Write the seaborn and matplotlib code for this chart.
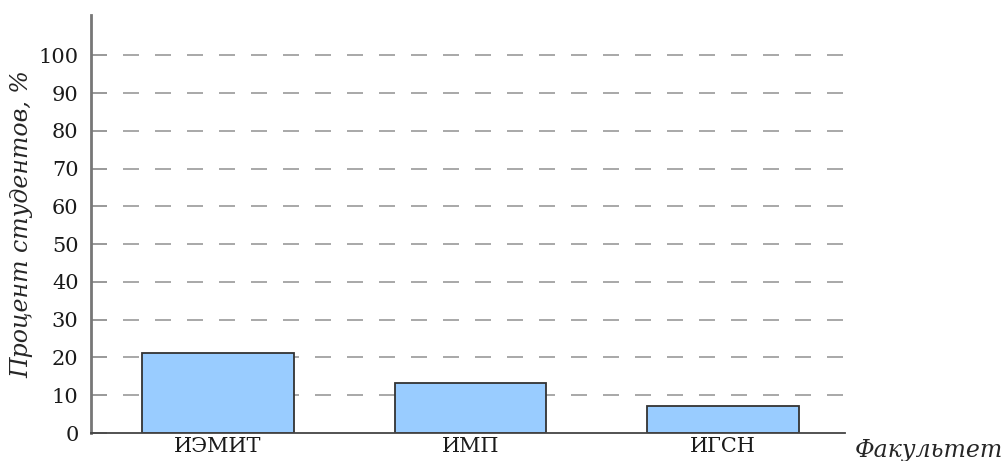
import seaborn as sns
import matplotlib.pyplot as plt
import pandas as pd

# Факультеты и процент студентов
faculties = ["ИЭМИТ", "ИМП", "ИГСН"]
percents = [21.2, 13.2, 7.1]
y_ticks = [0, 10, 20, 30, 40, 50, 60, 70, 80, 90, 100]

data = pd.DataFrame({"Факультет": faculties, "Процент": percents})

sns.set_style("white")
plt.rcParams['font.family'] = ['DejaVu Serif']
plt.rcParams['font.size'] = 15

fig = plt.figure(figsize=(10.06, 4.61), dpi=100)
ax = fig.add_axes([0.0905, 0.0607, 0.7495, 0.9063])

# Столбцы
sns.barplot(x="Факультет", y="Процент", data=data, color="#99ccff",
            saturation=1, width=0.6, edgecolor="#333333", linewidth=1.3, ax=ax)

ax.set_xlim(-0.503, 2.483)
ax.set_ylim(0, 110.6)
ax.set_yticks(y_ticks)

# Пунктирная сетка
ax.hlines(y_ticks[1:], -0.503, 2.483, color="#999999", linewidth=1.2,
          linestyle=(0, (9.6, 9.6)), zorder=0.5)

ax.tick_params(axis="x", length=0, pad=3, labelcolor="#1a1a1a")
ax.tick_params(axis="y", left=True, direction="in", length=11.5, width=1.2,
               color="#999999", pad=9, labelcolor="#1a1a1a")

for s in ["top", "right"]:
    ax.spines[s].set_visible(False)
ax.spines["left"].set_color("#777777")
ax.spines["left"].set_linewidth(2)
ax.spines["bottom"].set_color("#444444")
ax.spines["bottom"].set_linewidth(1.3)
ax.spines["bottom"].set_zorder(3)

ax.set_xlabel("Факультет", fontstyle="italic", fontsize=17, ha="left", va="center")
ax.xaxis.set_label_coords(1.013, -0.043)
ax.set_ylabel("Процент студентов, %", fontstyle="italic", fontsize=17, va="center")
ax.yaxis.set_label_coords(-0.092, 0.5)

plt.savefig("out.png", dpi=100)
